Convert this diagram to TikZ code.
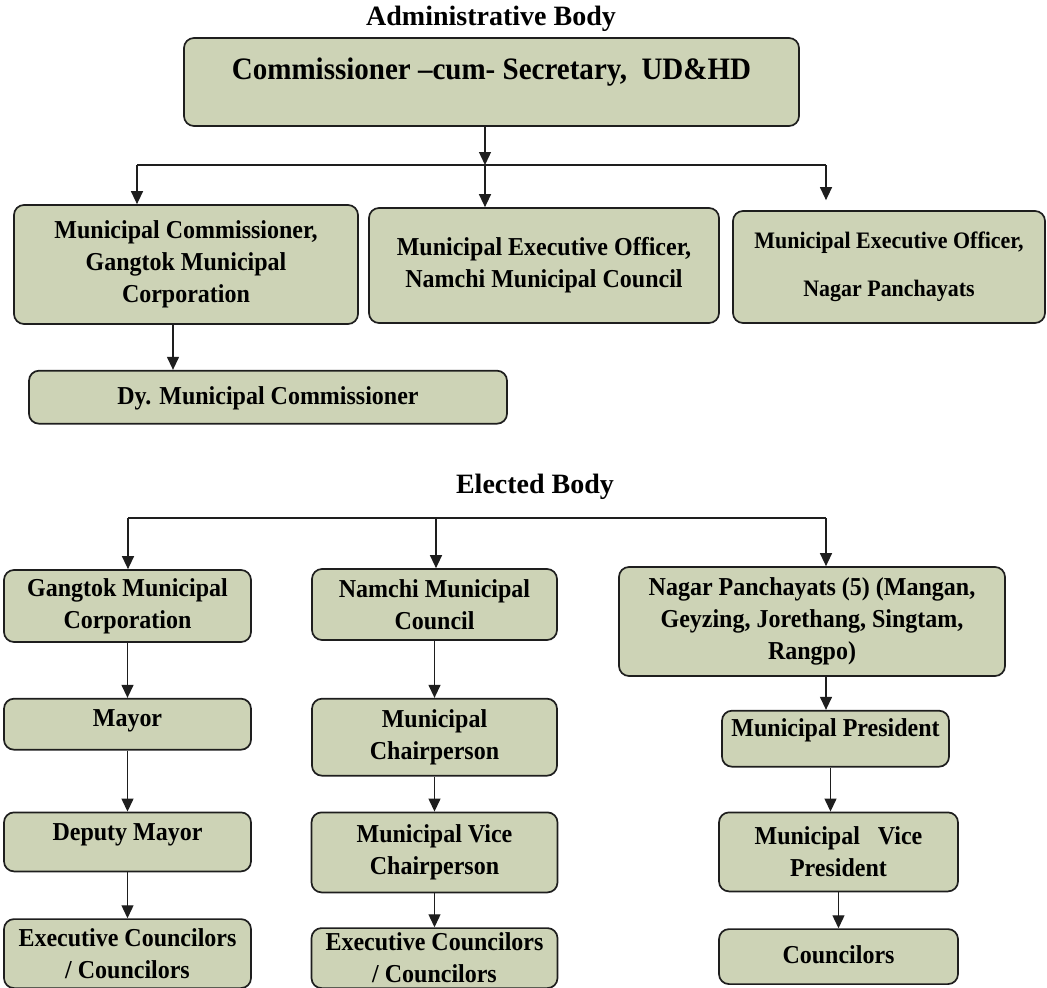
\documentclass[tikz,border=0pt]{standalone}
\usepackage{fontspec}
\setmainfont{Liberation Serif}
\newfontfamily\boxfamily{Liberation Serif}[Ligatures=TeX, FakeStretch=0.93]
\usepackage{tikz}
\usetikzlibrary{
	arrows.meta,
	positioning
}
\definecolor{boxfill}{RGB}{205,211,182}
\definecolor{boxline}{RGB}{30,30,30}

\begin{document}
\begin{tikzpicture}[
				x=1pt, y=-1pt,
				stage/.style={
					rectangle, draw=boxline, fill=boxfill, rounded corners=10pt,
					line width=1.7pt, inner sep=0pt, align=center,
					font=\boxfamily\bfseries\fontsize{25.8}{32}\selectfont
				},
				onerow/.style 2 args={
					text height=#1, text depth=#2
				},
				heading/.style={
					font=\bfseries\fontsize{28}{32}\selectfont, anchor=base, inner sep=0pt
				},
				arrow/.style={-{Triangle[length=13pt,width=12pt]}, line width=1.3pt, boxline},
				bus/.style={line width=1.3pt, boxline}
				]
				
				\useasboundingbox (0,0) rectangle (1047,988);
				
				% headings
				\node[heading] (admtitle) at (491,25) {Administrative Body};
				\node[heading] (eltitle) at (535,493) {Elected Body};
				
				% administrative body
				\node[stage, minimum width=615pt, onerow={41pt}{47pt},
					font=\boxfamily\bfseries\fontsize{31.2}{36}\selectfont] (cs) at (491.5,82)
					{Commissioner --cum- Secretary,\ \ UD\&HD};
				
				\node[stage, minimum width=344pt, minimum height=119pt] (mcg) at (186,264.5)
					{Municipal Commissioner,\\Gangtok Municipal\\Corporation};
				\node[stage, minimum width=350pt, minimum height=115pt] (mcn) at (544,265.5)
					{Municipal Executive Officer,\\Namchi Municipal Council};
				\node[stage, minimum width=312pt, minimum height=112pt,
					font=\boxfamily\bfseries\fontsize{23.6}{30}\selectfont] (mcp) at (889,267)
					{Municipal Executive Officer,\\[18pt]Nagar Panchayats};
				
				\node[stage, minimum width=478pt, onerow={34pt}{19pt},
					below=45pt of mcg, xshift=82pt] (dmc) {Dy. Municipal Commissioner};
				
				% elected body, Gangtok
				\node[stage, minimum width=247pt, minimum height=72pt] (gmc) at (127.5,606)
					{Gangtok Municipal\\Corporation};
				\node[stage, minimum width=247pt, onerow={28pt}{23pt}, below=55pt of gmc] (mayor) {Mayor};
				\node[stage, minimum width=247pt, onerow={28pt}{31pt}, below=61pt of mayor] (dmayor) {Deputy Mayor};
				\node[stage, minimum width=247pt, minimum height=69pt, below=46pt of dmayor] (ecg)
					{Executive Councilors\\/ Councilors};
				
				% elected body, Namchi
				\node[stage, minimum width=245pt, minimum height=71pt] (nmc) at (434.5,604.5)
					{Namchi Municipal\\Council};
				\node[stage, minimum width=245pt, minimum height=77pt, below=57pt of nmc] (chair)
					{Municipal\\Chairperson};
				\node[stage, minimum width=246pt, minimum height=80pt, below=35pt of chair] (vchair)
					{Municipal Vice\\Chairperson};
				\node[stage, minimum width=246pt, minimum height=60pt, below=34pt of vchair] (ecn)
					{Executive Councilors\\/ Councilors};
				
				% elected body, Nagar Panchayats
				\node[stage, minimum width=386pt, minimum height=109pt] (np) at (812,621.5)
					{Nagar Panchayats (5) (Mangan,\\Geyzing, Jorethang, Singtam,\\Rangpo)};
				\node[stage, minimum width=227pt, onerow={26pt}{30pt},
					below=33pt of np, xshift=23.5pt] (pres) {Municipal President};
				\node[stage, minimum width=239pt, minimum height=79pt,
					below=44pt of pres, xshift=3pt] (vpres) {Municipal\ \ \ Vice\\President};
				\node[stage, minimum width=239pt, onerow={34pt}{21pt}, below=36pt of vpres] (counc) {Councilors};
				
				% bus points
				\coordinate (admbus) at (485,165);
				\coordinate (admL) at (137,165);
				\coordinate (admR) at (826,165);
				\coordinate (elbus) at (436,518);
				\coordinate (elL) at (128,518);
				\coordinate (elR) at (826,518);
				
				% administrative arrows
				\draw[arrow] (cs.south -| admbus) -- (admbus);
				\draw[bus] (admL) -- (admR);
				\draw[arrow] (admL)   -- (admL |- mcg.north);
				\draw[arrow] (admbus) -- (admbus |- mcn.north);
				\draw[arrow] (admR)   -- ([yshift=10pt]admR |- mcp.north);
				\draw[arrow] ([xshift=-13pt]mcg.south) -- ([xshift=-13pt]mcg.south |- dmc.north);
				
				% elected arrows
				\draw[bus] (elL) -- (elR);
				\draw[arrow] (elL)   -- (elL |- gmc.north);
				\draw[arrow] (elbus) -- (elbus |- nmc.north);
				\draw[arrow] (elR)   -- (elR |- np.north);
				
				\draw[arrow] (gmc)    -- (mayor);
				\draw[arrow] (mayor)  -- (dmayor);
				\draw[arrow] (dmayor) -- (ecg);
				
				\draw[arrow] (nmc)    -- (chair);
				\draw[arrow] (chair)  -- (vchair);
				\draw[arrow] (vchair) -- (ecn);
				
				\draw[arrow] (np.south -| elR) -- (elR |- pres.north);
				\draw[arrow] ([xshift=-5pt]pres.south) -- ([xshift=-5pt]pres.south |- vpres.north);
				\draw[arrow] (vpres)  -- (counc);
			\end{tikzpicture}
\end{document}
